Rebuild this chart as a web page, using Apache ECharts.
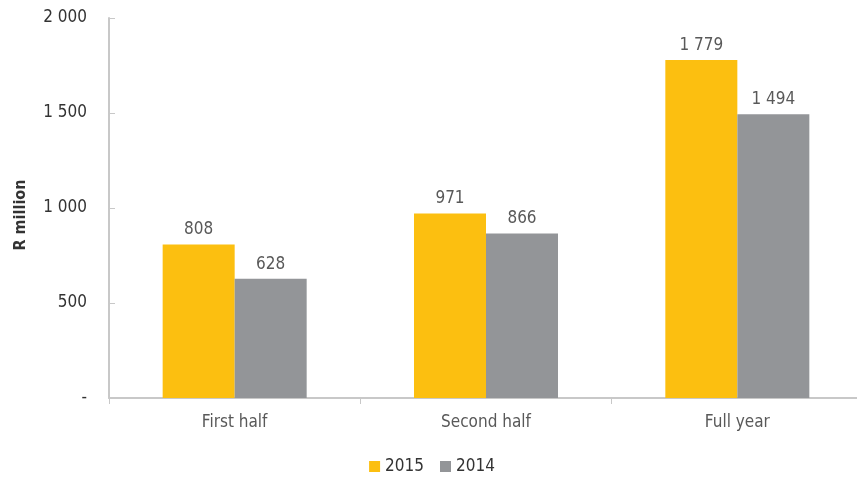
<!DOCTYPE html>
<html>
<head>
<meta charset="utf-8">
<script src="https://cdn.jsdelivr.net/npm/echarts@6/dist/echarts.min.js"></script>
<style>
html, body { margin: 0; padding: 0; background: #fff; overflow: hidden; }
#chartContainer { width: 864px; height: 477px; }
</style>
</head>
<body>
<div id="chartContainer"></div>
<script>
var categories = ['First half', 'Second half', 'Full year'];
var values2015 = [808, 971, 1779];
var values2014 = [628, 866, 1494];
var yTicks = [0, 500, 1000, 1500, 2000];

var FONT = '"Liberation Sans Narrow", "DejaVu Sans Condensed", Arial, sans-serif';

function fmt(v) {
    if (v === 0) return '-';
    return String(v).replace(/\B(?=(\d{3})+(?!\d))/g, ' ');
}

// the plot runs a few pixels past the right edge of the window, like the original
var chart = echarts.init(document.getElementById('chartContainer'));
var option = {
    animation: false,
    textStyle: {fontFamily: FONT},
    grid: {left: 109, right: 1, top: 18, bottom: 79, containLabel: false},
    legend: {
        bottom: -3,
        left: 'center',
        itemWidth: 11,
        itemHeight: 11,
        itemGap: 16,
        icon: 'rect',
        textStyle: {fontFamily: FONT, fontSize: 17, color: '#333'},
        data: ['2015', '2014']
    },
    xAxis: {
        type: 'category',
        data: categories,
        axisLine: {lineStyle: {color: '#c8c8c8', width: 2}},
        axisTick: {show: true, length: 6, lineStyle: {color: '#c8c8c8'}},
        axisLabel: {fontFamily: FONT, fontSize: 17, color: '#595959', margin: 16}
    },
    yAxis: {
        type: 'value',
        min: yTicks[0],
        max: yTicks[yTicks.length - 1],
        interval: 500,
        name: 'R million',
        nameLocation: 'middle',
        nameGap: 80,
        nameTextStyle: {fontFamily: FONT, fontSize: 16, fontWeight: 'bold', color: '#333', padding: [0, 0, 0, -14]},
        axisLine: {show: true, lineStyle: {color: '#c8c8c8', width: 2}},
        axisTick: {show: true, inside: true, length: 6, lineStyle: {color: '#c8c8c8'}},
        splitLine: {show: false},
        axisLabel: {fontFamily: FONT, fontSize: 17, color: '#333', margin: 22, formatter: fmt}
    },
    series: [
        {
            name: '2015',
            type: 'bar',
            data: values2015,
            barGap: '0%',
            barCategoryGap: '42.7%',
            itemStyle: {color: '#FCBF10'},
            label: {show: true, position: 'top', distance: 6, fontFamily: FONT, fontSize: 17, color: '#595959', formatter: function (p) { return fmt(p.value); }}
        },
        {
            name: '2014',
            type: 'bar',
            data: values2014,
            barGap: '0%',
            barCategoryGap: '42.7%',
            itemStyle: {color: '#939598'},
            label: {show: true, position: 'top', distance: 6, fontFamily: FONT, fontSize: 17, color: '#595959', formatter: function (p) { return fmt(p.value); }}
        }
    ]
};
chart.setOption(option);
</script>
</body>
</html>
